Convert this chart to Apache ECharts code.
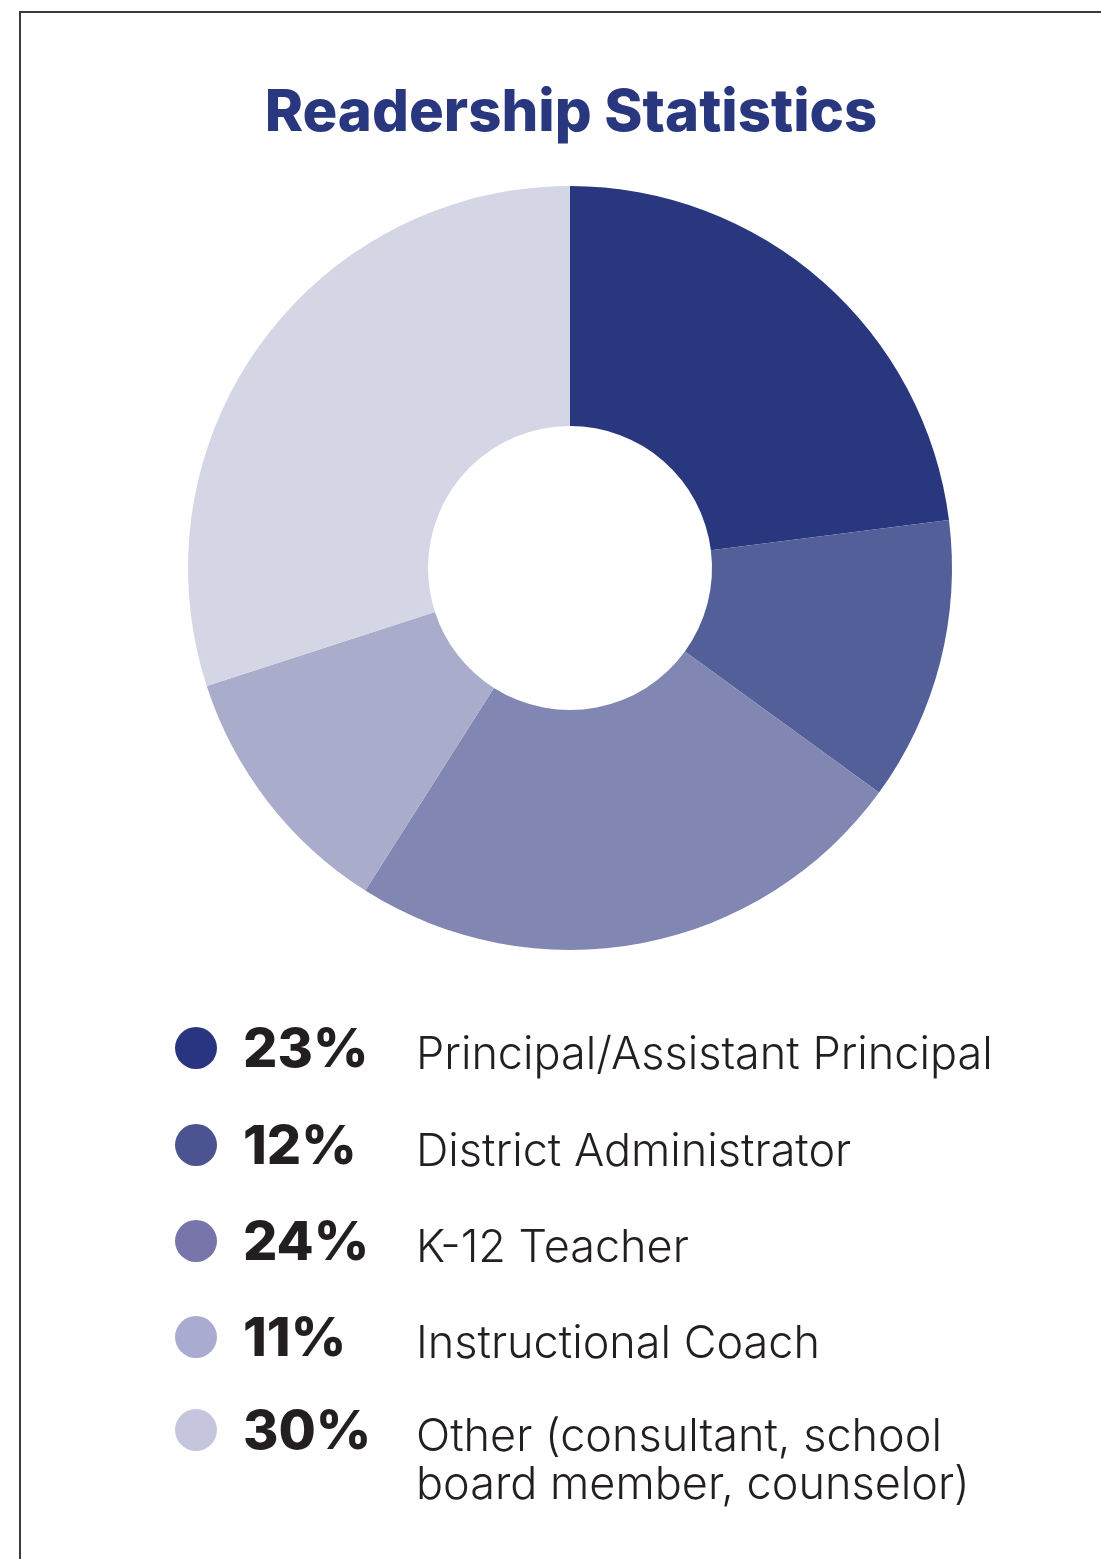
<!DOCTYPE html>
<html>
<head>
<meta charset="utf-8">
<script src="https://cdn.jsdelivr.net/npm/echarts@6/dist/echarts.min.js"></script>
<style>
html,body{margin:0;padding:0;background:#fff;}
#chart{width:1101px;height:1559px;}
</style>
</head>
<body>
<div id="chart"></div>
<script>
const title = 'Readership Statistics';
const categories = ['Principal/Assistant Principal', 'District Administrator', 'K-12 Teacher', 'Instructional Coach', 'Other (consultant, school\nboard member, counselor)'];
const values = [23, 12, 24, 11, 30];
const pctLabels = ['23%', '12%', '24%', '11%', '30%'];
const sliceColors = ['#29377e', '#535f99', '#8186b3', '#a9acca', '#d4d6e6'];
const dotColors = ['#2a3581', '#4b5390', '#7775a9', '#a9acd0', '#c6c5de'];

const chart = echarts.init(document.getElementById('chart'), null, {renderer: 'canvas'});

const legendTop = [1048, 1145, 1241, 1337, 1430];
const graphics = [
  {type: 'polyline', shape: {points: [[20, 1559], [20, 12], [1101, 12]]}, style: {stroke: '#3a3a3a', lineWidth: 2, fill: null}}
];
categories.forEach((c, i) => {
  const cy = legendTop[i];
  graphics.push({type: 'circle', shape: {cx: 196, cy: cy, r: 21}, style: {fill: dotColors[i]}});
  graphics.push({type: 'text', x: 243, y: cy + 3, style: {text: pctLabels[i], font: '800 54px Inter', fill: '#231f20', textVerticalAlign: 'middle'}});
  graphics.push({type: 'text', x: 416, y: cy - 17, style: {text: c, font: '300 45px Inter', fill: '#231f20', textVerticalAlign: 'top', lineHeight: 48}});
});

chart.setOption({
  animation: false,
  title: {
    text: title, left: 566, top: 80, textAlign: 'center',
    textStyle: {fontFamily: 'Inter', fontWeight: 800, fontSize: 58, color: '#29377e'}
  },
  series: [{
    type: 'pie',
    center: [570, 568],
    radius: [142, 382],
    startAngle: 90,
    clockwise: true,
    label: {show: false},
    labelLine: {show: false},
    silent: true,
    itemStyle: {borderWidth: 0},
    data: categories.map((c, i) => ({name: c, value: values[i], itemStyle: {color: sliceColors[i]}}))
  }],
  graphic: graphics
});
</script>
</body>
</html>
